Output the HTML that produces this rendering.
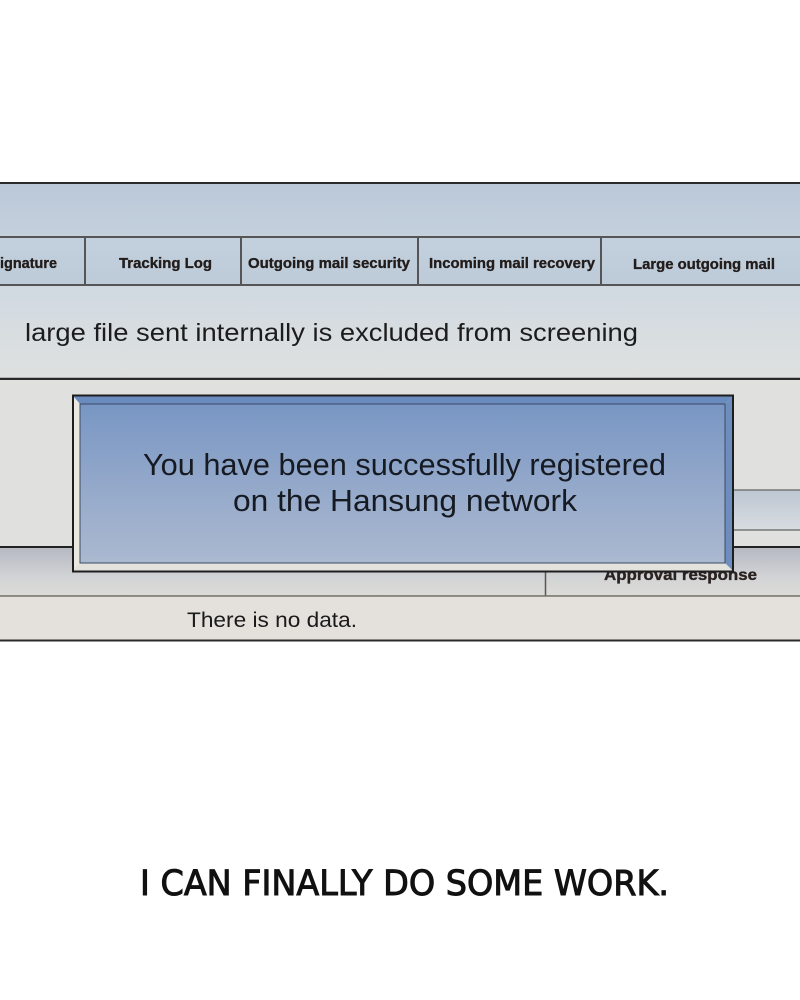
<!DOCTYPE html>
<html><head><meta charset="utf-8"><style>
html,body{margin:0;padding:0;background:#fff;width:800px;height:1000px;overflow:hidden}
svg{display:block}
</style></head><body>
<svg width="800" height="1000" viewBox="0 0 800 1000" xmlns="http://www.w3.org/2000/svg">
<defs>
<linearGradient id="hdr" x1="0" y1="0" x2="0" y2="1"><stop offset="0" stop-color="#bac8d8"/><stop offset="1" stop-color="#c4d0dc"/></linearGradient>
<linearGradient id="tab" x1="0" y1="0" x2="0" y2="1"><stop offset="0" stop-color="#c3d0de"/><stop offset="1" stop-color="#bdcbd9"/></linearGradient>
<linearGradient id="sub" x1="0" y1="0" x2="0" y2="1"><stop offset="0" stop-color="#d0d9e1"/><stop offset="1" stop-color="#dfe1e0"/></linearGradient>
<linearGradient id="band" x1="0" y1="0" x2="0" y2="1"><stop offset="0" stop-color="#b6b9c2"/><stop offset="0.6" stop-color="#d2d3d5"/><stop offset="1" stop-color="#dddcd9"/></linearGradient>
<linearGradient id="band2" x1="0" y1="0" x2="0" y2="1"><stop offset="0" stop-color="#bcc7d3"/><stop offset="1" stop-color="#d8dce0"/></linearGradient>
<linearGradient id="dlg" x1="0" y1="0" x2="0" y2="1"><stop offset="0" stop-color="#7896c4"/><stop offset="0.5" stop-color="#93a8ca"/><stop offset="1" stop-color="#abb9d0"/></linearGradient>
</defs>

<!-- header -->
<rect x="0" y="183" width="800" height="54" fill="url(#hdr)"/>
<rect x="0" y="237" width="800" height="48" fill="url(#tab)"/>
<rect x="0" y="285" width="800" height="94" fill="url(#sub)"/>
<line x1="0" y1="183" x2="800" y2="183" stroke="#2a2a2a" stroke-width="2"/>
<line x1="0" y1="237" x2="800" y2="237" stroke="#555" stroke-width="2"/>
<line x1="0" y1="285" x2="800" y2="285" stroke="#555" stroke-width="2"/>
<line x1="85" y1="237" x2="85" y2="285" stroke="#555" stroke-width="2"/>
<line x1="241" y1="237" x2="241" y2="285" stroke="#555" stroke-width="2"/>
<line x1="418" y1="237" x2="418" y2="285" stroke="#555" stroke-width="2"/>
<line x1="601" y1="237" x2="601" y2="285" stroke="#555" stroke-width="2"/>
<g font-family="Liberation Sans, Arial, sans-serif" font-weight="bold" font-size="15" fill="#221c1a" stroke="#221c1a" stroke-width="0.35">
<text x="0" y="268" textLength="57" lengthAdjust="spacingAndGlyphs">ignature</text>
<text x="119" y="268" textLength="93" lengthAdjust="spacingAndGlyphs">Tracking Log</text>
<text x="248" y="268" textLength="162" lengthAdjust="spacingAndGlyphs">Outgoing mail security</text>
<text x="429" y="268" textLength="166" lengthAdjust="spacingAndGlyphs">Incoming mail recovery</text>
<text x="633" y="269" textLength="142" lengthAdjust="spacingAndGlyphs">Large outgoing mail</text>
</g>
<text x="25" y="341" font-family="Liberation Sans, Arial, sans-serif" font-size="25" fill="#1c1c1c" textLength="613" lengthAdjust="spacingAndGlyphs">large file sent internally is excluded from screening</text>
<line x1="0" y1="379" x2="800" y2="379" stroke="#2a2a2a" stroke-width="2.5"/>

<!-- lower panel -->
<rect x="0" y="380" width="800" height="167" fill="#e0e0de"/>
<rect x="733" y="490" width="67" height="40" fill="url(#band2)"/>
<line x1="733" y1="490" x2="800" y2="490" stroke="#777" stroke-width="1.5"/>
<line x1="733" y1="530" x2="800" y2="530" stroke="#777" stroke-width="1.5"/>
<rect x="0" y="548" width="800" height="48" fill="url(#band)"/>
<line x1="0" y1="547" x2="800" y2="547" stroke="#222" stroke-width="2"/>
<line x1="545.5" y1="548" x2="545.5" y2="596" stroke="#5a5550" stroke-width="1.5"/>
<text x="604" y="580" font-family="Liberation Sans, Arial, sans-serif" font-weight="bold" font-size="16" fill="#2a2220" stroke="#2a2220" stroke-width="0.35" textLength="153" lengthAdjust="spacingAndGlyphs">Approval response</text>
<rect x="0" y="597" width="800" height="43" fill="#e4e1dc"/>
<line x1="0" y1="596" x2="800" y2="596" stroke="#6e6a62" stroke-width="1.5"/>
<text x="187" y="627" font-family="Liberation Sans, Arial, sans-serif" font-size="21" fill="#1a1a1a" textLength="170" lengthAdjust="spacingAndGlyphs">There is no data.</text>
<line x1="0" y1="640.5" x2="800" y2="640.5" stroke="#2a2a2a" stroke-width="2"/>

<!-- dialog -->
<rect x="73" y="396" width="660" height="175" fill="#e6e4de"/>
<polygon points="73,396 733,396 725,404 80,404" fill="#6a8bbd"/>
<polygon points="733,396 733,571 725,563 725,404" fill="#6d8dbf"/>
<polygon points="73,396 80,404 80,563 73,571" fill="#ebe8e2"/>
<polygon points="73,571 733,571 725,563 80,563" fill="#e4e2dc"/>
<rect x="80" y="404" width="645" height="159" fill="url(#dlg)" stroke="#3c4a62" stroke-width="1"/>
<rect x="73" y="395.5" width="660" height="176" fill="none" stroke="#1e1e1e" stroke-width="2"/>
<g font-family="Liberation Sans, Arial, sans-serif" font-size="31" fill="#161a22">
<text x="143" y="475" textLength="523" lengthAdjust="spacingAndGlyphs">You have been successfully registered</text>
<text x="233" y="511" textLength="344" lengthAdjust="spacingAndGlyphs">on the Hansung network</text>
</g>

<!-- caption -->
<text x="140" y="895" font-family="DejaVu Sans, Liberation Sans, sans-serif" font-size="35" fill="#111" stroke="#111" stroke-width="1" textLength="529" lengthAdjust="spacingAndGlyphs">I CAN FINALLY DO SOME WORK.</text>
</svg>
</body></html>
